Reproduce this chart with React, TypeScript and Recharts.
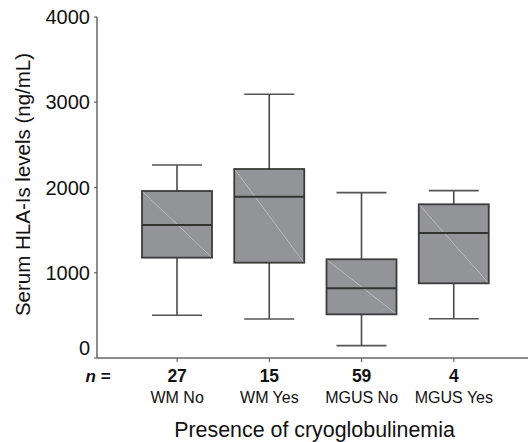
import React from "react";
import { ComposedChart, Bar, XAxis, YAxis } from "recharts";

const groups = ["WM No", "WM Yes", "MGUS No", "MGUS Yes"];
const counts = [27, 15, 59, 4];
const mins = [501, 457, 145, 461];
const q1s = [1177, 1118, 512, 876];
const medians = [1561, 1892, 817, 1466];
const q3s = [1959, 2217, 1158, 1803];
const maxs = [2264, 3093, 1940, 1963];
const yTicks = [0, 1000, 2000, 3000, 4000];

const data = groups.map((name, i) => ({
  name,
  n: counts[i],
  min: mins[i],
  q1: q1s[i],
  median: medians[i],
  q3: q3s[i],
  max: maxs[i],
}));

const FONT = "'Liberation Sans', Arial, Helvetica, sans-serif";

const BoxShape = (props: any) => {
  const { x, y, width, height, payload } = props;
  const top = Math.min(y, y + height);
  const h = Math.abs(height);
  const k = h / (payload.q3 - payload.q1);
  const yOf = (v: number) => top + (payload.q3 - v) * k;
  const cx = x + width / 2;
  const cap = 25;
  return (
    <g>
      <line x1={cx} x2={cx} y1={yOf(payload.max)} y2={top} stroke="#4a4a4a" strokeWidth={1.6} />
      <line x1={cx} x2={cx} y1={top + h} y2={yOf(payload.min)} stroke="#4a4a4a" strokeWidth={1.6} />
      <line x1={cx - cap} x2={cx + cap} y1={yOf(payload.max)} y2={yOf(payload.max)} stroke="#555" strokeWidth={1.6} />
      <line x1={cx - cap} x2={cx + cap} y1={yOf(payload.min)} y2={yOf(payload.min)} stroke="#555" strokeWidth={1.6} />
      <rect x={x} y={top} width={width} height={h} fill="#939498" stroke="#3b3b3b" strokeWidth={1.8} />
      <line x1={x + 1} y1={top + 1} x2={x + width - 1} y2={top + h - 1} stroke="#c9c9cb" strokeWidth={0.7} />
      <line x1={x} x2={x + width} y1={yOf(payload.median)} y2={yOf(payload.median)} stroke="#333" strokeWidth={2} />
    </g>
  );
};

const GroupTick = (props: any) => {
  const { x, y, payload } = props;
  const i = groups.indexOf(payload.value);
  return (
    <g fontFamily={FONT}>
      {i === 0 && (
        <text x={98} y={y} dy={20} textAnchor="middle" fontSize={17} fontWeight="bold" fontStyle="italic" fill="#111">
          n =
        </text>
      )}
      <text x={x} y={y} dy={20} textAnchor="middle" fontSize={17.5} fontWeight="bold" fill="#111">
        {counts[i]}
      </text>
      <text x={x} y={y} dy={40.5} textAnchor="middle" fontSize={16} fill="#111">
        {payload.value}
      </text>
    </g>
  );
};

const ValueTick = (props: any) => {
  const { x, y, payload } = props;
  return (
    <text x={x} y={y} dy={payload.value === 0 ? -3 : 7} textAnchor="end" fontSize={20} fontFamily={FONT} fill="#111">
      {payload.value}
    </text>
  );
};

const YTitle = (props: any) => {
  const { viewBox } = props;
  const cy = viewBox.y + viewBox.height / 2 - 3;
  return (
    <text
      transform={`translate(22, ${cy}) rotate(-90)`}
      textAnchor="middle"
      dominantBaseline="central"
      fontSize={20.5}
      fontFamily={FONT}
      fill="#111"
    >
      Serum HLA-Is levels (ng/mL)
    </text>
  );
};

export default function App() {
  return (
    <div style={{ position: "absolute", left: 0, top: 0, background: "#fff" }}>
      <ComposedChart
        width={529}
        height={442}
        data={data}
        margin={{ top: 17, right: 1, bottom: 0, left: 0 }}
      >
        <XAxis
          dataKey="name"
          type="category"
          height={84}
          padding={{ left: 34, right: 28 }}
          tickSize={4}
          tickMargin={0}
          axisLine={{ stroke: "#666", strokeWidth: 1.5 }}
          tickLine={{ stroke: "#666", strokeWidth: 1.2 }}
          tick={<GroupTick />}
          interval={0}
          label={{
            value: "Presence of cryoglobulinemia",
            position: "insideBottom",
            offset: 5,
            fontSize: 21.4,
            fontFamily: FONT,
            fill: "#111",
            dx: 2,
          }}
        />
        <YAxis
          type="number"
          domain={[0, 4000]}
          ticks={yTicks}
          width={97}
          tickSize={3}
          tickMargin={4}
          axisLine={{ stroke: "#666", strokeWidth: 1.5 }}
          tickLine={{ stroke: "#666", strokeWidth: 1.2 }}
          tick={<ValueTick />}
          label={{ content: <YTitle /> }}
        />
        <Bar
          dataKey={(d: any) => [d.q1, d.q3]}
          barSize={70}
          shape={<BoxShape />}
          isAnimationActive={false}
        />
      </ComposedChart>
    </div>
  );
}
